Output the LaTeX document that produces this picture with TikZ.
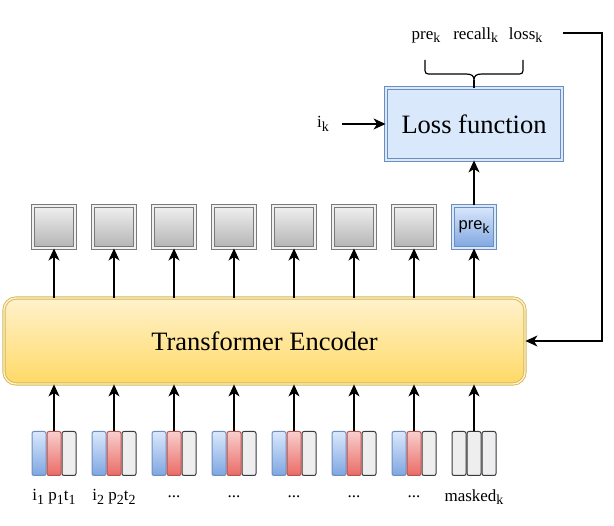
\documentclass[tikz,border=0pt]{standalone}
\usepackage{fontspec}
\usepackage{graphicx}
\setmainfont{Liberation Serif}
\newfontfamily\arialfont{Liberation Sans}
\usetikzlibrary{arrows.meta,calc}
\newcommand\lsub[1]{\raisebox{-0.22em}{\scalebox{0.82}{#1}}}
\definecolor{encdraw}{HTML}{D6B656}
\definecolor{enctop}{HTML}{FFF2CC}
\definecolor{encbot}{HTML}{FFD966}
\definecolor{bluedraw}{HTML}{6C8EBF}
\definecolor{bluefill}{HTML}{DAE8FC}
\definecolor{bluebot}{HTML}{7EA6E0}
\definecolor{reddraw}{HTML}{B85450}
\definecolor{redtop}{HTML}{F8CECC}
\definecolor{redbot}{HTML}{EA6B66}
\definecolor{graydraw}{HTML}{36393D}
\definecolor{grayfill}{HTML}{EEEEEE}
\definecolor{sqdraw}{HTML}{7A7A7A}
\definecolor{sqtop}{HTML}{F0F0F0}
\definecolor{sqbot}{HTML}{B3B3B3}
\tikzset{
  arr/.style={line width=1.2pt,-{Stealth[length=12pt,width=11pt,inset=3.5pt]}},
  encbox/.style={draw=encdraw,double=enctop,line width=0.9pt,double distance=1.4pt,
    rounded corners=12pt,top color=enctop,bottom color=encbot,
    minimum width=521pt,minimum height=86pt,inner sep=0pt,font=\fontsize{26.5}{30}\selectfont},
  lossbox/.style={draw=bluedraw,double=bluefill,line width=0.9pt,double distance=1.4pt,
    fill=bluefill,minimum width=176pt,minimum height=72pt,inner sep=0pt,
    font=\fontsize{26.5}{30}\selectfont},
  outsq/.style={draw=sqdraw,double=sqtop,line width=1pt,double distance=1.3pt,
    top color=sqtop,bottom color=sqbot,minimum width=42pt,minimum height=42pt,inner sep=0pt},
  presq/.style={draw=bluedraw,double=bluefill,line width=1pt,double distance=1.3pt,
    top color=bluefill,bottom color=bluebot,minimum width=42pt,minimum height=42pt,inner sep=0pt,
    font=\arialfont\fontsize{16.5}{18}\selectfont},
  bar/.style={line width=1pt,rounded corners=2pt,minimum width=14pt,minimum height=44pt,inner sep=0pt},
  bluebar/.style={bar,draw=bluedraw,top color=bluefill,bottom color=bluebot},
  redbar/.style={bar,draw=reddraw,top color=redtop,bottom color=redbot},
  graybar/.style={bar,draw=graydraw,fill=grayfill},
  lbl/.style={inner sep=0pt,font=\fontsize{17}{19}\selectfont},
  bracestyle/.style={line width=1.2pt,line join=round},
}
\begin{document}
\begin{tikzpicture}[x=1pt,y=-1pt]
\useasboundingbox (0,0) rectangle (614,526);
% encoder
\node[encbox] (enc) at (264.5,341) {Transformer Encoder};
% output squares
\foreach \i in {0,...,6}{
  \node[outsq] (o\i) at (54+60*\i,227) {};
  \draw[arr] (enc.north -| o\i) -- (o\i.south);
}
\node[presq] (o7) at (474,227) {pre\lsub{k}};
\draw[arr] (enc.north -| o7) -- (o7.south);
% input groups
\foreach \i in {0,...,6}{
  \node[bluebar] (in\i b) at (54+60*\i-15,453.5) {};
  \node[graybar] (in\i g) at (54+60*\i+15,453.5) {};
  \node[redbar] (in\i r) at (54+60*\i,453.5) {};
  \draw[arr] (in\i r.north) -- (enc.south -| in\i r);
}
\node[graybar] (in7b) at (459,453.5) {};
\node[graybar] (in7g) at (489,453.5) {};
\node[graybar] (in7r) at (474,453.5) {};
\draw[arr] (in7r.north) -- (enc.south -| in7r);
% input labels
\node[lbl] (l0) at (54,497) {i\lsub{1} p\lsub{1}t\lsub{1}};
\node[lbl] (l1) at (114,497) {i\lsub{2} p\lsub{2}t\lsub{2}};
\foreach \i in {2,...,6}{
  \node[lbl] (l\i) at (54+60*\i,497) {...};
}
\node[lbl] (l7) at (474,497) {masked\lsub{k}};
% loss function
\node[lossbox] (loss) at (474,124) {Loss function};
\draw[arr] (o7.north) -- (loss.south);
\node[lbl] (ik) at (323,124) {i\lsub{k}};
\coordinate (ikstart) at ($(ik.east)+(13,0)$);
\draw[arr] (ikstart) -- (loss.west);
% top labels
\node[lbl] (top) at (477,35) {pre\lsub{k}\hspace{13pt}recall\lsub{k}\hspace{11pt}loss\lsub{k}};
% brace
\draw[bracestyle] (425,60) -- (425,67) .. controls (425,74) .. (432,74) -- (466,74)
  .. controls (472,74) and (474,76) .. (474,80)
  .. controls (474,76) and (476,74) .. (482,74) -- (516,74)
  .. controls (523,74) .. (523,67) -- (523,60);
\draw[bracestyle] (474,80) -- (loss.north);
% feedback
\coordinate (fbstart) at (563,33);
\coordinate (fbcorner) at (602,33);
\coordinate (fbdown) at (602,341);
\draw[arr] (fbstart) -- (fbcorner) -- (fbdown) -- (enc.east |- fbdown);
\end{tikzpicture}
\end{document}
